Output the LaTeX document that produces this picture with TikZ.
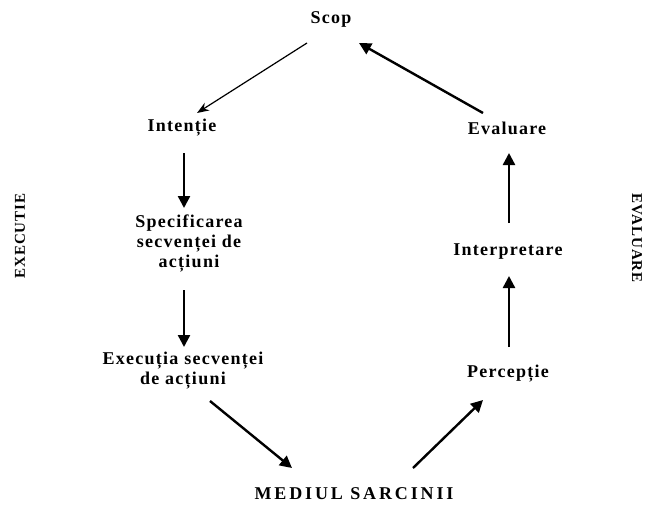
\documentclass[tikz,border=0pt]{standalone}
\usepackage{fontspec}
\setmainfont{Liberation Serif}[LetterSpace=7]
\newfontfamily\widefont{Liberation Serif}[LetterSpace=16]
\usetikzlibrary{arrows.meta}
\begin{document}
\begin{tikzpicture}[x=1pt,y=-1pt,
  lbl/.style={font=\fontsize{18}{20}\selectfont\bfseries, align=center, inner sep=0pt},
  side/.style={font=\fontsize{15}{17}\selectfont\bfseries, inner sep=0pt},
  thickarr/.style={line width=2.4pt, -{Triangle[length=12pt,width=12pt]}},
  thinarr/.style={line width=1.2pt, -{Stealth[length=12pt,width=9pt]}}]
\useasboundingbox (0,0) rectangle (648,504);
\node[lbl] (scop) at (331,19) {Scop};
\node[lbl] (int) at (182,128) {Intenție};
\node[lbl] (eval) at (507,128) {Evaluare};
\node[lbl] (spec) at (189,243) {Specificarea\\secvenței de\\acțiuni};
\node[lbl] (interp) at (508,252) {Interpretare};
\node[lbl] (exec) at (183,371) {Execuția secvenței\\de acțiuni};
\node[lbl] (perc) at (508,374) {Percepție};
\node[lbl, font=\fontsize{18}{20}\selectfont\widefont\bfseries] (mediu) at (354,494) {MEDIUL SARCINII};
\node[side, rotate=90] (executie) at (20,236) {EXECUTIE};
\node[side, rotate=-90] (evaluare) at (637,238) {EVALUARE};

\draw[thinarr] ([shift={(-24,24)}]scop.center) -- ([shift={(15,-15)}]int.center);
\draw[thickarr] ([shift={(-24,-15)}]eval.center) -- ([shift={(28,24)}]scop.center);
\draw[thickarr] ([shift={(2,25)}]int.center) -- ([shift={(-5,-35)}]spec.center);
\draw[thickarr] ([shift={(-5,47)}]spec.center) -- ([shift={(1,-24)}]exec.center);
\draw[thickarr] ([shift={(27,30)}]exec.center) -- ([shift={(-62,-26)}]mediu.center);
\draw[thickarr] ([shift={(59,-26)}]mediu.center) -- ([shift={(-25,26)}]perc.center);
\draw[thickarr] ([shift={(1,-27)}]perc.center) -- ([shift={(1,24)}]interp.center);
\draw[thickarr] ([shift={(1,-29)}]interp.center) -- ([shift={(2,25)}]eval.center);
\end{tikzpicture}
\end{document}
